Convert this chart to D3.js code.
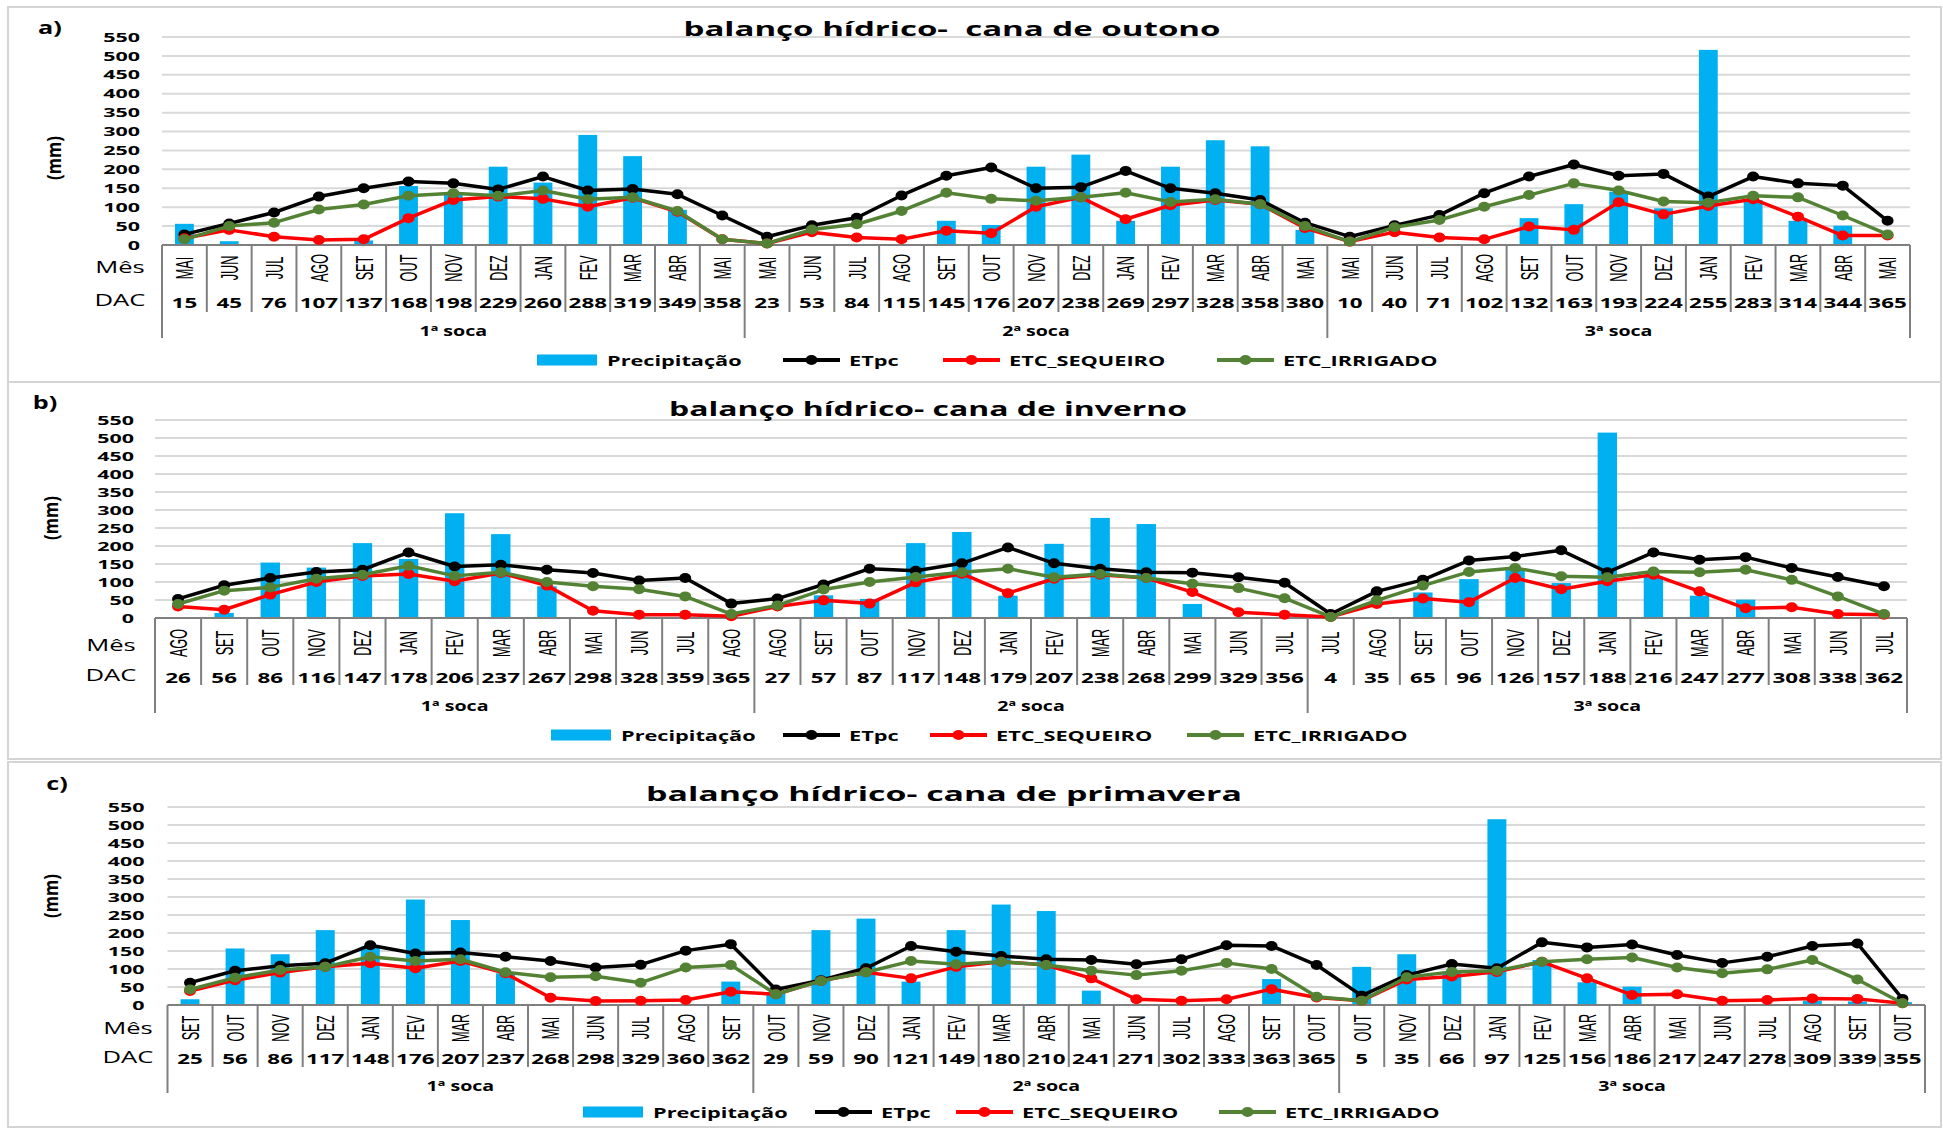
<!DOCTYPE html>
<html>
<head>
<meta charset="utf-8">
<script src="https://cdn.jsdelivr.net/npm/d3@7"></script>
<style>
  body { margin: 0; background: #fff; }
  text { font-family: "Open Sans", sans-serif; fill: #000; }
</style>
</head>
<body>
<div id="chart"></div>
<script>
// ---- data ----
var yTicks = [0, 50, 100, 150, 200, 250, 300, 350, 400, 450, 500, 550];
var socaNames = ['1ª soca', '2ª soca', '3ª soca'];
var seriesNames = ['Precipitação', 'ETpc', 'ETC_SEQUEIRO', 'ETC_IRRIGADO'];

// a) cana de outono
var titleA = 'balanço hídrico-  cana de outono';
var groupsA = [13, 13, 13];
var mesA = ['MAI','JUN','JUL','AGO','SET','OUT','NOV','DEZ','JAN','FEV','MAR','ABR','MAI',
            'MAI','JUN','JUL','AGO','SET','OUT','NOV','DEZ','JAN','FEV','MAR','ABR','MAI',
            'MAI','JUN','JUL','AGO','SET','OUT','NOV','DEZ','JAN','FEV','MAR','ABR','MAI'];
var dacA = [15,45,76,107,137,168,198,229,260,288,319,349,358,
            23,53,84,115,145,176,207,238,269,297,328,358,380,
            10,40,71,102,132,163,193,224,255,283,314,344,365];
var precA = [56,10,0,0,12,156,137,207,165,291,235,93,0,
             0,0,0,0,64,53,207,239,64,207,277,261,40,
             0,0,0,0,71,108,141,97,516,119,64,51,0];
var etpcA = [28,57,86,128,150,168,163,147,181,144,148,134,78,
             22,52,72,131,183,205,150,153,196,150,137,119,59,
             22,52,79,137,181,213,183,188,128,181,163,157,64];
var seqA = [18,40,22,13,15,71,119,128,122,101,125,88,15,
            4,34,20,15,38,31,101,126,68,105,119,108,45,
            9,34,20,15,49,40,113,81,103,121,75,25,25];
var irrA = [15,50,59,94,107,130,137,130,144,121,126,90,15,
            4,41,55,90,138,122,117,126,138,114,121,108,50,
            9,47,66,101,132,163,144,115,112,130,126,78,28];

// b) cana de inverno
var titleB = 'balanço hídrico- cana de inverno';
var groupsB = [13, 12, 13];
var mesB = ['AGO','SET','OUT','NOV','DEZ','JAN','FEV','MAR','ABR','MAI','JUN','JUL','AGO',
            'AGO','SET','OUT','NOV','DEZ','JAN','FEV','MAR','ABR','MAI','JUN','JUL',
            'JUL','AGO','SET','OUT','NOV','DEZ','JAN','FEV','MAR','ABR','MAI','JUN','JUL'];
var dacB = [26,56,86,116,147,178,206,237,267,298,328,359,365,
            27,57,87,117,148,179,207,238,268,299,329,356,
            4,35,65,96,126,157,188,216,247,277,308,338,362];
var precB = [0,14,154,140,208,164,291,233,88,0,0,0,0,
             0,63,53,208,239,62,206,278,261,39,0,0,
             0,0,71,108,134,97,515,115,62,51,0,0,0];
var etpcB = [53,91,111,128,134,182,143,148,134,125,104,111,40,
             54,93,137,131,152,196,152,137,127,126,113,98,
             11,74,106,160,171,188,127,182,162,169,139,114,88];
var seqB = [32,23,65,100,117,122,102,125,90,20,9,9,5,
            32,49,40,99,123,69,109,120,111,72,16,9,
            3,39,54,44,111,80,102,120,74,27,30,11,9];
var irrB = [39,76,85,109,120,145,117,127,100,88,80,60,11,
            35,79,100,114,127,137,113,122,111,95,83,55,
            3,49,90,128,139,116,113,129,127,134,106,60,11];

// c) cana de primavera
var titleC = 'balanço hídrico- cana de primavera';
var groupsC = [13, 13, 13];
var mesC = ['SET','OUT','NOV','DEZ','JAN','FEV','MAR','ABR','MAI','JUN','JUL','AGO','SET',
            'OUT','NOV','DEZ','JAN','FEV','MAR','ABR','MAI','JUN','JUL','AGO','SET','OUT',
            'OUT','NOV','DEZ','JAN','FEV','MAR','ABR','MAI','JUN','JUL','AGO','SET','OUT'];
var dacC = [25,56,86,117,148,176,207,237,268,298,329,360,362,
            29,59,90,121,149,180,210,241,271,302,333,363,365,
            5,35,66,97,125,156,186,217,247,278,309,339,355];
var precC = [16,157,141,208,162,293,236,88,0,0,0,0,65,
             35,208,240,65,208,279,261,40,0,0,0,72,0,
             106,141,92,516,125,63,51,0,0,0,12,10,8];
var etpcC = [62,95,109,116,166,143,146,134,122,104,112,151,169,
             43,69,102,164,148,136,127,125,113,127,166,164,111,
             26,83,114,102,174,160,168,139,117,134,164,171,17];
var seqC = [39,69,90,106,116,102,122,88,20,11,12,14,37,
            30,67,91,74,106,120,111,74,16,12,16,44,21,
            12,71,79,92,120,74,28,30,12,14,18,17,5];
var irrC = [43,76,97,106,134,122,127,91,77,80,62,104,111,
            30,67,91,122,113,120,111,95,83,95,117,100,23,
            12,77,92,95,120,127,132,104,88,99,125,71,5];

var colors = { prec: '#00b0f0', etpc: '#000000', seq: '#ff0000', irr: '#548235' };

var svg = d3.select('#chart').append('svg')
    .attr('width', 1943)
    .attr('height', 1129);

// the original is a horizontally stretched Excel export, so text gets widened
function stretch(sel, k) {
    sel.each(function () {
        var w = this.getComputedTextLength();
        d3.select(this).attr('textLength', w * k).attr('lengthAdjust', 'spacingAndGlyphs');
    });
    return sel;
}

function drawPanel(p) {
    var g = svg.append('g');
    var n = p.mes.length;

    g.append('rect')
        .attr('x', p.box[0]).attr('y', p.box[1])
        .attr('width', p.box[2] - p.box[0]).attr('height', p.box[3] - p.box[1])
        .attr('fill', '#fff').attr('stroke', '#d4d4d4').attr('stroke-width', 2);

    var x = d3.scaleBand().domain(d3.range(n)).range([p.left, p.right]);
    var y = d3.scaleLinear().domain([0, 550]).range([p.y0, p.y550]);
    var bw = x.bandwidth();
    var cx = i => x(i) + bw / 2;

    // gridlines
    g.selectAll('.grid').data(yTicks.slice(1)).enter().append('line')
        .attr('x1', p.left).attr('x2', p.right)
        .attr('y1', d => y(d)).attr('y2', d => y(d))
        .attr('stroke', '#d9d9d9').attr('stroke-width', 2);

    // y axis
    var yAxis = g.append('g')
        .attr('transform', 'translate(' + p.left + ',0)')
        .call(d3.axisLeft(y).tickValues(yTicks).tickSize(0).tickPadding(p.tickPad));
    yAxis.select('.domain').remove();
    yAxis.selectAll('text')
        .style('font-family', '"Open Sans", sans-serif')
        .style('font-size', '13px').style('font-weight', 'bold').attr('fill', '#000')
        .call(stretch, 1.65);

    // bars
    var barW = bw * 0.42;
    g.selectAll('.bar').data(p.prec).enter().append('rect')
        .attr('x', (d, i) => cx(i) - barW / 2)
        .attr('y', d => y(d))
        .attr('width', barW)
        .attr('height', d => p.y0 - y(d))
        .attr('fill', colors.prec);

    // category axis line
    g.append('line')
        .attr('x1', p.left).attr('x2', p.right)
        .attr('y1', p.y0).attr('y2', p.y0)
        .attr('stroke', '#7f7f7f').attr('stroke-width', 2);

    // lines + markers
    var line = d3.line().x((d, i) => cx(i)).y(d => y(d));
    [[p.etpc, colors.etpc], [p.seq, colors.seq], [p.irr, colors.irr]].forEach(function (s) {
        g.append('path').datum(s[0])
            .attr('d', line).attr('fill', 'none')
            .attr('stroke', s[1]).attr('stroke-width', 3.5).attr('stroke-linejoin', 'round');
        g.selectAll(null).data(s[0]).enter().append('ellipse')
            .attr('cx', (d, i) => cx(i)).attr('cy', d => y(d))
            .attr('rx', 6).attr('ry', 5)
            .attr('fill', s[1]);
    });

    // separators of the category table
    var bounds = [0];
    p.groups.forEach(gs => bounds.push(bounds[bounds.length - 1] + gs));
    d3.range(n + 1).forEach(function (i) {
        var isGroup = bounds.indexOf(i) >= 0;
        var xx = i < n ? x(i) : p.right;
        g.append('line')
            .attr('x1', xx).attr('x2', xx)
            .attr('y1', p.y0).attr('y2', isGroup ? p.sepLong : p.sepShort)
            .attr('stroke', '#7f7f7f').attr('stroke-width', 2);
    });

    // month labels (rotated, condensed)
    g.selectAll('.mes').data(p.mes).enter().append('text')
        .attr('transform', (d, i) => 'translate(' + cx(i) + ',' + p.monthY + ') scale(1.6,0.82) rotate(-90)')
        .attr('text-anchor', 'middle').attr('dominant-baseline', 'central')
        .style('font-family', '"Liberation Sans", Arial, sans-serif')
        .style('font-size', '15.5px')
        .text(d => d);

    // DAC numbers
    g.selectAll('.dac').data(p.dac).enter().append('text')
        .attr('x', (d, i) => cx(i)).attr('y', p.dacY)
        .attr('text-anchor', 'middle').attr('dominant-baseline', 'central')
        .style('font-size', '14px').style('font-weight', 'bold')
        .text(d => d)
        .call(stretch, 1.6);

    // soca labels
    socaNames.forEach(function (name, k) {
        var mid = (x(bounds[k]) + (bounds[k + 1] < n ? x(bounds[k + 1]) : p.right)) / 2;
        g.append('text')
            .attr('x', mid).attr('y', p.socaY)
            .attr('text-anchor', 'middle').attr('dominant-baseline', 'central')
            .style('font-size', '14px').style('font-weight', 'bold')
            .text(name)
            .call(stretch, 1.4);
    });

    // row labels
    g.append('text').attr('x', p.rowX).attr('y', p.mesY)
        .attr('text-anchor', 'middle').attr('dominant-baseline', 'central')
        .style('font-size', '16px').text('Mês').call(stretch, 1.6);
    g.append('text').attr('x', p.rowX).attr('y', p.dacLabY)
        .attr('text-anchor', 'middle').attr('dominant-baseline', 'central')
        .style('font-size', '16px').text('DAC').call(stretch, 1.6);

    // panel letter, title, unit
    g.append('text').attr('x', p.letter[0]).attr('y', p.letter[1])
        .attr('text-anchor', 'middle').attr('dominant-baseline', 'central')
        .style('font-size', '18px').style('font-weight', 'bold')
        .text(p.letterText).call(stretch, 1.4);
    g.append('text').attr('x', p.titleX).attr('y', p.titleY)
        .attr('text-anchor', 'middle').attr('dominant-baseline', 'central')
        .style('font-size', '20px').style('font-weight', 'bold')
        .style('white-space', 'pre')
        .text(p.title)
        .attr('textLength', p.titleW).attr('lengthAdjust', 'spacingAndGlyphs');
    g.append('text')
        .attr('transform', 'translate(' + p.mm[0] + ',' + p.mm[1] + ') rotate(-90)')
        .attr('text-anchor', 'middle').attr('dominant-baseline', 'central')
        .style('font-size', '19px').style('font-weight', 'bold')
        .text('(mm)')
        .attr('textLength', 44).attr('lengthAdjust', 'spacingAndGlyphs');

    // legend
    var ly = p.legendY;
    g.append('rect')
        .attr('x', p.leg[0]).attr('y', ly - 5.5)
        .attr('width', 60).attr('height', 11)
        .attr('fill', colors.prec);
    var legLines = [null, colors.etpc, colors.seq, colors.irr];
    seriesNames.forEach(function (name, k) {
        var x0 = p.leg[k];
        if (k > 0) {
            g.append('line')
                .attr('x1', x0).attr('x2', x0 + 57)
                .attr('y1', ly).attr('y2', ly)
                .attr('stroke', legLines[k]).attr('stroke-width', 4);
            g.append('ellipse')
                .attr('cx', x0 + 28.5).attr('cy', ly)
                .attr('rx', 6).attr('ry', 5).attr('fill', legLines[k]);
        }
        g.append('text')
            .attr('x', x0 + (k === 0 ? 70 : 66)).attr('y', ly)
            .attr('dominant-baseline', 'central')
            .style('font-size', '14px').style('font-weight', 'bold')
            .text(name)
            .call(stretch, 1.55);
    });
}

drawPanel({
    box: [8, 7, 1941, 382], left: 162, right: 1910, y0: 245, y550: 37, tickPad: 22,
    mes: mesA, dac: dacA, prec: precA, etpc: etpcA, seq: seqA, irr: irrA, groups: groupsA,
    monthY: 268, dacY: 302, sepShort: 312, sepLong: 338, socaY: 330,
    rowX: 120, mesY: 267, dacLabY: 300,
    letter: [50, 27], letterText: 'a)',
    title: titleA, titleX: 952, titleY: 28, titleW: 537,
    mm: [54, 158],
    legendY: 360, leg: [537, 783, 943, 1217]
});

drawPanel({
    box: [8, 382, 1941, 759], left: 155, right: 1907, y0: 618, y550: 420, tickPad: 21,
    mes: mesB, dac: dacB, prec: precB, etpc: etpcB, seq: seqB, irr: irrB, groups: groupsB,
    monthY: 643, dacY: 677, sepShort: 685, sepLong: 713, socaY: 705,
    rowX: 111, mesY: 645, dacLabY: 675,
    letter: [45, 402], letterText: 'b)',
    title: titleB, titleX: 928, titleY: 408, titleW: 518,
    mm: [51, 518],
    legendY: 735, leg: [551, 783, 930, 1187]
});

drawPanel({
    box: [8, 762, 1941, 1127], left: 167.5, right: 1925, y0: 1005, y550: 807, tickPad: 23,
    mes: mesC, dac: dacC, prec: precC, etpc: etpcC, seq: seqC, irr: irrC, groups: groupsC,
    monthY: 1028, dacY: 1058, sepShort: 1067, sepLong: 1093, socaY: 1085,
    rowX: 128, mesY: 1028, dacLabY: 1057,
    letter: [57, 783], letterText: 'c)',
    title: titleC, titleX: 944, titleY: 793, titleW: 596,
    mm: [51, 896],
    legendY: 1112, leg: [583, 815, 956, 1219]
});
</script>
</body>
</html>
